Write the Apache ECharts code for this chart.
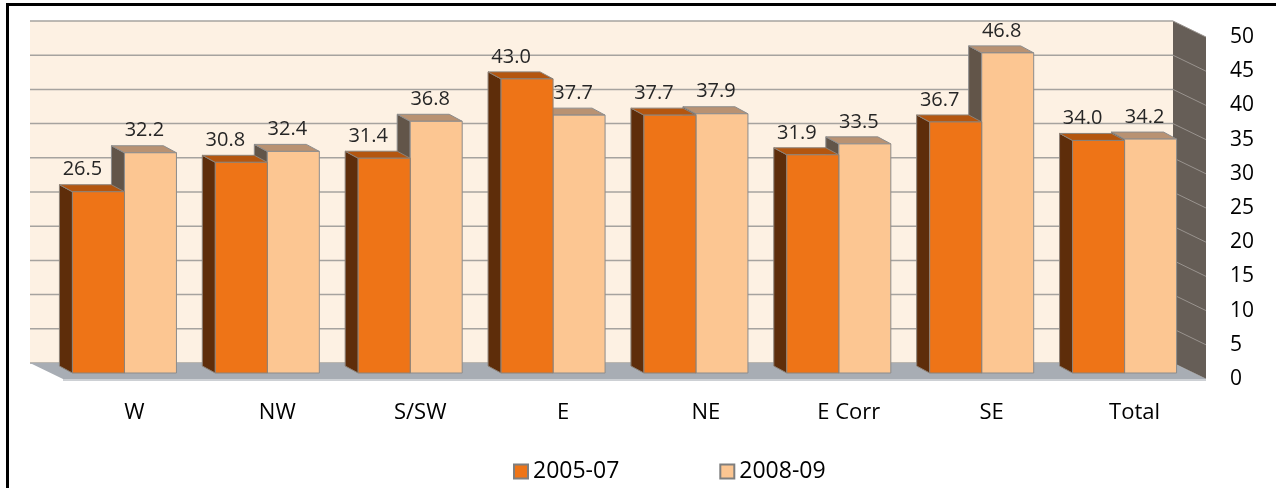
<!DOCTYPE html>
<html>
<head>
<meta charset="utf-8">
<script src="https://cdn.jsdelivr.net/npm/echarts@6/dist/echarts.min.js"></script>
<style>
  html, body { margin: 0; padding: 0; background: #fff; }
  #chart { width: 1276px; height: 488px; }
</style>
</head>
<body>
<div id="chart"></div>
<script>
const categories = ['W', 'NW', 'S/SW', 'E', 'NE', 'E Corr', 'SE', 'Total'];
const values0507 = [26.5, 30.8, 31.4, 43.0, 37.7, 31.9, 36.7, 34.0];
const values0809 = [32.2, 32.4, 36.8, 37.7, 37.9, 33.5, 46.8, 34.2];
const yTicks = [0, 5, 10, 15, 20, 25, 30, 35, 40, 45, 50];

const FONT = '"Open Sans", "DejaVu Sans", sans-serif';
// offsets from the bar front plane (grid 0)
const BACK = [-23, -10];
const FRONT = [10, 6];
const BAR_DEPTH = [-13, -7];

const palettes = {
  early: { front: '#EE7417', side: '#5E2D0A', top: '#B4560F', edge: '#8c8278', labelDx: -16 },
  late: { front: '#FCC692', side: '#625549', top: '#B99272', edge: '#8c8c8c', labelDx: -6 }
};

function boxRenderer(params, api) {
  const cs = params.coordSys;
  const left = cs.x, right = cs.x + cs.width;
  const yZero = api.coord([0, 0])[1];
  const yTop = api.coord([0, 50])[1];
  const children = [];
  children.push({
    type: 'rect',
    shape: { x: left + BACK[0], y: yTop + BACK[1], width: cs.width, height: yZero - yTop },
    style: { fill: '#FDF1E3' }
  });
  children.push({
    type: 'polygon',
    shape: { points: [[right + BACK[0], yTop + BACK[1]], [right + FRONT[0], yTop + FRONT[1]],
                      [right + FRONT[0], yZero + FRONT[1]], [right + BACK[0], yZero + BACK[1]]] },
    style: { fill: '#665E57' }
  });
  yTicks.forEach(function (v) {
    const y = api.coord([0, v])[1];
    children.push({
      type: 'line',
      shape: { x1: left + BACK[0], y1: y + BACK[1], x2: right + BACK[0], y2: y + BACK[1] },
      style: { stroke: '#A6A39F', lineWidth: 1.5 }
    });
    children.push({
      type: 'line',
      shape: { x1: right + BACK[0], y1: y + BACK[1], x2: right + FRONT[0], y2: y + FRONT[1] },
      style: { stroke: '#99938e', lineWidth: 1 }
    });
  });
  children.push({
    type: 'polygon',
    shape: { points: [[left + BACK[0], yZero + BACK[1]], [right + BACK[0], yZero + BACK[1]],
                      [right + FRONT[0], yZero + FRONT[1]], [left + FRONT[0], yZero + FRONT[1]]] },
    style: { fill: '#A8ADB4' }
  });
  children.push({
    type: 'rect',
    shape: { x: left + FRONT[0], y: yZero + FRONT[1], width: cs.width, height: 2 },
    style: { fill: '#CDD0D4' }
  });
  return { type: 'group', children: children };
}

function barRenderer(side, pal) {
  return function (params, api) {
    const cat = api.value(0), val = api.value(1);
    const top = api.coord([cat, val]);
    const base = api.coord([cat, 0]);
    const w = api.size([1, 0])[0] * 0.364;
    const x0 = side < 0 ? top[0] - w : top[0];
    const x1 = x0 + w;
    const yt = top[1], yb = base[1];
    const dx = BAR_DEPTH[0], dy = BAR_DEPTH[1];
    return {
      type: 'group',
      children: [
        { type: 'polygon', shape: { points: [[x0, yt], [x0 + dx, yt + dy], [x0 + dx, yb + dy], [x0, yb]] },
          style: { fill: pal.side, stroke: pal.edge, lineWidth: 1 } },
        { type: 'polygon', shape: { points: [[x0, yt], [x1, yt], [x1 + dx, yt + dy], [x0 + dx, yt + dy]] },
          style: { fill: pal.top, stroke: pal.edge, lineWidth: 1 } },
        { type: 'rect', shape: { x: x0, y: yt, width: w, height: yb - yt },
          style: { fill: pal.front, stroke: pal.edge, lineWidth: 1 } },
        { type: 'text', style: { text: val.toFixed(1), x: (x0 + x1) / 2 + pal.labelDx, y: yt - 22,
          align: 'center', verticalAlign: 'middle', font: '20px ' + FONT, fill: '#262626' } }
      ]
    };
  };
}

const chart = echarts.init(document.getElementById('chart'), null, { renderer: 'canvas' });
chart.setOption({
  backgroundColor: '#fff',
  animation: false,
  grid: [
    { left: 53, top: 31, width: 1143, height: 342 },
    { left: 63, top: 37, width: 1143, height: 342 }
  ],
  xAxis: [
    { type: 'category', gridIndex: 0, data: categories, show: false },
    { type: 'category', gridIndex: 1, data: categories,
      axisLine: { show: false }, axisTick: { show: false },
      axisLabel: { margin: 23, color: '#000', fontSize: 22, fontFamily: FONT } }
  ],
  yAxis: [
    { type: 'value', gridIndex: 0, min: 0, max: 50, interval: 5, show: false },
    { type: 'value', gridIndex: 1, position: 'right', min: 0, max: 50, interval: 5,
      splitLine: { show: false }, axisLine: { show: false }, axisTick: { show: false },
      axisLabel: { margin: 24, color: '#000', fontSize: 21, fontFamily: FONT, align: 'left' } }
  ],
  legend: {
    data: ['2005-07', '2008-09'],
    left: 508, top: 455,
    icon: 'rect', itemWidth: 14, itemHeight: 14, itemGap: 100,
    textStyle: { fontSize: 23, fontFamily: FONT, color: '#000' }
  },
  graphic: [
    { type: 'rect', shape: { x: 6, y: 3, width: 1270, height: 3 }, style: { fill: '#000' } },
    { type: 'rect', shape: { x: 6, y: 3, width: 3, height: 485 }, style: { fill: '#000' } }
  ],
  series: [
    { type: 'custom', name: 'box', xAxisIndex: 0, yAxisIndex: 0, z: 1, silent: true,
      clip: false, renderItem: boxRenderer, data: [[0, 0]] },
    { type: 'custom', name: '2008-09', xAxisIndex: 0, yAxisIndex: 0, z: 2, clip: false,
      itemStyle: { color: palettes.late.front, borderColor: '#7f7f7f', borderWidth: 1 },
      renderItem: barRenderer(1, palettes.late),
      data: values0809.map(function (v, i) { return [i, v]; }) },
    { type: 'custom', name: '2005-07', xAxisIndex: 0, yAxisIndex: 0, z: 3, clip: false,
      itemStyle: { color: palettes.early.front, borderColor: '#7f7f7f', borderWidth: 1 },
      renderItem: barRenderer(-1, palettes.early),
      data: values0507.map(function (v, i) { return [i, v]; }) }
  ]
});
</script>
</body>
</html>
